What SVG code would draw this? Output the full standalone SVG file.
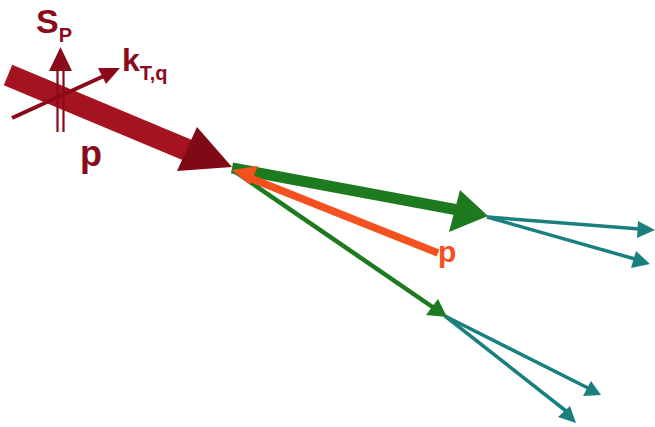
<svg xmlns="http://www.w3.org/2000/svg" width="655" height="427" viewBox="0 0 655 427">
<style>
.t{font-family:"Liberation Sans",Arial,sans-serif;font-weight:bold}
.teal{stroke:#1a7f7f;stroke-width:3.5;fill:none}
.tealh{fill:#1a7f7f}
</style>
<rect width="655" height="427" fill="#fff"/>
<g id="connectors">
  <g id="teal1">
    <line class="teal" x1="487" y1="217" x2="640" y2="229"/>
    <polygon class="tealh" points="655,230 638,221 637,238"/>
    <line class="teal" x1="487" y1="217" x2="635" y2="259"/>
    <polygon class="tealh" points="650,264 636,251 631,268"/>
  </g>
  <g id="teal2">
    <line class="teal" x1="445" y1="316" x2="588" y2="388"/>
    <polygon class="tealh" points="601,395 591,381 583,396"/>
    <line class="teal" x1="445" y1="316" x2="566" y2="411"/>
    <polygon class="tealh" points="576,423 570,406 558,417"/>
  </g>
  <g id="green-thin">
    <line x1="234" y1="171" x2="434" y2="308" stroke="#1e7a1e" stroke-width="4.5"/>
    <polygon points="447,317 438,299 426,315" fill="#1e7a1e"/>
  </g>
  <g id="green-thick">
    <line x1="232" y1="168" x2="458" y2="210" stroke="#1e7a1e" stroke-width="11"/>
    <polygon points="488,216 460,190 449,232" fill="#1e7a1e"/>
  </g>
  <g id="orange">
    <line x1="438" y1="253" x2="250" y2="178" stroke="#f4511e" stroke-width="7.5"/>
    <polygon points="232,170 258,166 250,185" fill="#f4511e"/>
  </g>
  <g id="red-p">
    <line x1="8" y1="75" x2="192" y2="152" stroke="#a4131f" stroke-width="22"/>
    <polygon points="197,127 177,171 232,167" fill="#7f0a15"/>
  </g>
  <g id="spin">
    <line x1="57.5" y1="70" x2="57.5" y2="132" stroke="#8b0a1a" stroke-width="2.2"/>
    <line x1="63.5" y1="70" x2="63.5" y2="132" stroke="#8b0a1a" stroke-width="2.2"/>
    <polygon points="60.5,47 49,71 72,71" fill="#8b0a1a"/>
  </g>
  <g id="kt">
    <line x1="12" y1="118" x2="104" y2="76" stroke="#8b0a1a" stroke-width="4"/>
    <polygon points="120,68 98,68 106,84" fill="#8b0a1a"/>
  </g>
</g>
<g id="labels">
  <text class="t" x="36" y="33" font-size="34" fill="#8b0a1a">S<tspan font-size="20" dy="9">P</tspan></text>
  <text class="t" x="122" y="71" font-size="32" fill="#8b0a1a">k<tspan font-size="20" dy="9">T,q</tspan></text>
  <text class="t" x="80" y="166" font-size="36" fill="#8b0a1a">p</text>
  <text class="t" x="438" y="262" font-size="30" fill="#f4511e">p</text>
</g>
</svg>
